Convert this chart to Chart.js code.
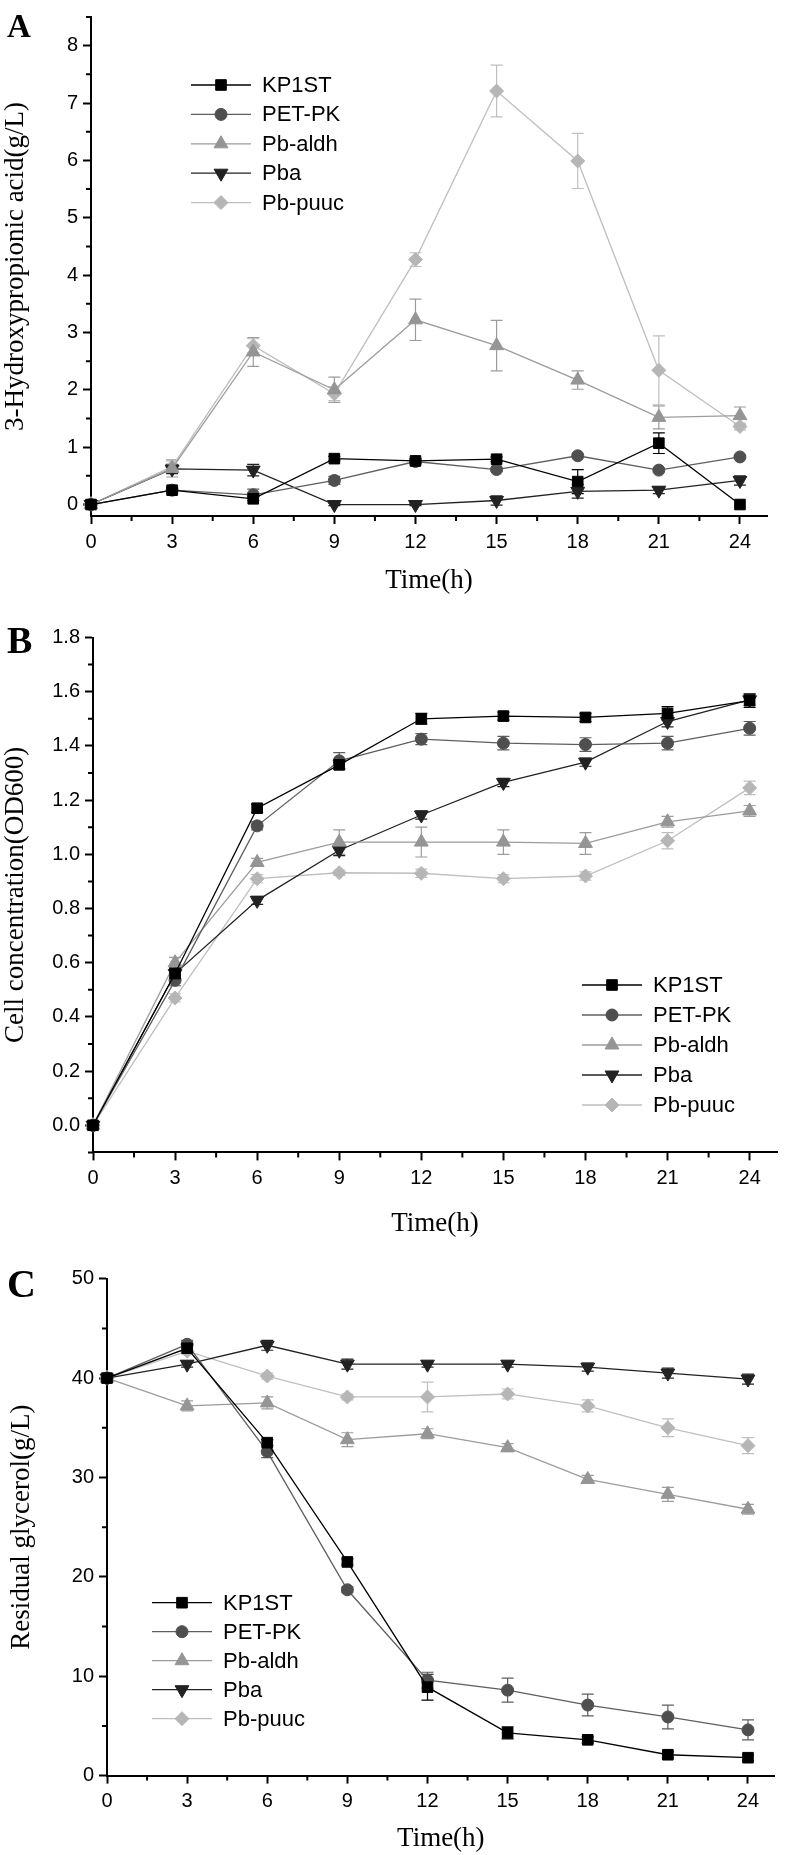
<!DOCTYPE html>
<html>
<head>
<meta charset="utf-8">
<script src="https://cdn.jsdelivr.net/npm/chart.js@4.4.1/dist/chart.umd.min.js"></script>
<style>
  body { margin: 0; background: #fff; width: 786px; height: 1855px; position: relative; overflow: hidden; }
  .panel { position: absolute; left: 0; width: 786px; }
</style>
</head>
<body>
<div class="panel" style="top:0;height:600px"><canvas id="chartA"></canvas></div>
<div class="panel" style="top:600px;height:650px"><canvas id="chartB"></canvas></div>
<div class="panel" style="top:1250px;height:605px"><canvas id="chartC"></canvas></div>
<script>
const hours = [0, 3, 6, 9, 12, 15, 18, 21, 24];
const strains = ["KP1ST", "PET-PK", "Pb-aldh", "Pba", "Pb-puuc"];

// A: 3-hydroxypropionic acid (g/L)
const hpKP1ST = [0, 0.25, 0.10, 0.80, 0.76, 0.79, 0.40, 1.07, 0.00];
const hpPETPK = [0, 0.25, 0.17, 0.42, 0.75, 0.61, 0.85, 0.60, 0.83];
const hpAldh  = [0, 0.63, 2.66, 2.00, 3.22, 2.77, 2.17, 1.52, 1.55];
const hpPba   = [0, 0.62, 0.60, 0.00, 0.00, 0.07, 0.23, 0.25, 0.42];
const hpPuuc  = [0, 0.66, 2.77, 1.93, 4.27, 7.21, 5.99, 2.34, 1.36];
const hpErrKP1ST = [0, 0.05, 0.03, 0.04, 0.04, 0.04, 0.21, 0.18, 0];
const hpErrPETPK = [0, 0.06, 0.10, 0.07, 0.04, 0.03, 0.03, 0.03, 0.03];
const hpErrAldh  = [0, 0.15, 0.25, 0.22, 0.36, 0.44, 0.16, 0.20, 0.15];
const hpErrPba   = [0, 0.08, 0.10, 0.02, 0.02, 0.08, 0.12, 0.06, 0.08];
const hpErrPuuc  = [0, 0.10, 0.12, 0.12, 0.12, 0.45, 0.48, 0.60, 0.06];

// B: cell concentration (OD600)
const odKP1ST = [0, 0.56, 1.17, 1.33, 1.50, 1.51, 1.505, 1.52, 1.567];
const odPETPK = [0, 0.535, 1.105, 1.345, 1.425, 1.41, 1.405, 1.41, 1.465];
const odAldh  = [0, 0.60, 0.97, 1.045, 1.045, 1.045, 1.04, 1.12, 1.16];
const odPba   = [0, 0.56, 0.83, 1.015, 1.145, 1.265, 1.34, 1.49, 1.57];
const odPuuc  = [0, 0.47, 0.91, 0.932, 0.93, 0.91, 0.92, 1.05, 1.245];
const odErrKP1ST = [0, 0.02, 0.015, 0.015, 0.02, 0.015, 0.015, 0.025, 0.025];
const odErrPETPK = [0, 0.02, 0.015, 0.03, 0.02, 0.025, 0.025, 0.025, 0.025];
const odErrAldh  = [0, 0.02, 0.015, 0.045, 0.055, 0.045, 0.04, 0.02, 0.02];
const odErrPba   = [0, 0.02, 0.015, 0.02, 0.015, 0.015, 0.015, 0.02, 0.02];
const odErrPuuc  = [0, 0.015, 0.015, 0.01, 0.015, 0.015, 0.015, 0.03, 0.025];

// C: residual glycerol (g/L)
const glyKP1ST = [40, 43.0, 33.5, 21.5, 8.9, 4.3, 3.6, 2.1, 1.8];
const glyPETPK = [40, 43.4, 32.6, 18.7, 9.6, 8.6, 7.1, 5.9, 4.6];
const glyAldh  = [40, 37.2, 37.5, 33.8, 34.4, 33.0, 29.8, 28.3, 26.8];
const glyPba   = [40, 41.4, 43.3, 41.4, 41.4, 41.4, 41.1, 40.5, 39.9];
const glyPuuc  = [40, 42.7, 40.2, 38.1, 38.1, 38.4, 37.2, 35.0, 33.2];
const glyErrKP1ST = [0, 0.3, 0.3, 0.3, 1.3, 0.6, 0.3, 0.3, 0.3];
const glyErrPETPK = [0, 0.4, 0.6, 0.3, 0.8, 1.2, 1.1, 1.2, 1.0];
const glyErrAldh  = [0, 0.5, 0.6, 0.7, 0.5, 0.4, 0.4, 0.7, 0.5];
const glyErrPba   = [0, 0.3, 0.5, 0.5, 0.3, 0.3, 0.4, 0.5, 0.5];
const glyErrPuuc  = [0, 0.3, 0.3, 0.3, 1.5, 0.5, 0.6, 0.9, 0.8];

const SANS = "'Liberation Sans', Arial, sans-serif";
const SERIF = "'Liberation Serif', 'Times New Roman', serif";

const seriesStyles = [
  { fill: "#000000", line: "#000000", pointStyle: "rect", radius: 7.5, rotation: 0 },
  { fill: "#4f4f4f", line: "#5e5e5e", pointStyle: "circle", radius: 6, rotation: 0 },
  { fill: "#959595", line: "#9c9c9c", pointStyle: "triangle", radius: 8, rotation: 0 },
  { fill: "#222222", line: "#222222", pointStyle: "triangle", radius: 8, rotation: 180 },
  { fill: "#b6b6b6", line: "#bfbfbf", pointStyle: "rectRot", radius: 7, rotation: 0 }
];

function drawMarker(ctx, st, x, y) {
  ctx.fillStyle = st.fill;
  ctx.strokeStyle = st.fill;
  ctx.lineWidth = 1;
  if (Chart.helpers && Chart.helpers.drawPoint) {
    Chart.helpers.drawPoint(ctx, { pointStyle: st.pointStyle, radius: st.radius, rotation: st.rotation, borderWidth: 1 }, x, y);
  }
}

// vertical error bars, drawn under the markers
const errorBars = {
  id: "errorBars",
  beforeDatasetsDraw(chart) {
    const ctx = chart.ctx;
    const xs = chart.scales.x, ys = chart.scales.y;
    ctx.save();
    chart.data.datasets.forEach(ds => {
      if (!ds.errors) return;
      ctx.strokeStyle = ds.borderColor;
      ctx.lineWidth = 1.2;
      ds.data.forEach((p, i) => {
        const e = ds.errors[i];
        if (!e) return;
        const px = xs.getPixelForValue(p.x);
        const top = ys.getPixelForValue(p.y + e);
        const bot = ys.getPixelForValue(p.y - e);
        ctx.beginPath();
        ctx.moveTo(px, top); ctx.lineTo(px, bot);
        ctx.moveTo(px - 6, top); ctx.lineTo(px + 6, top);
        ctx.moveTo(px - 6, bot); ctx.lineTo(px + 6, bot);
        ctx.stroke();
      });
    });
    ctx.restore();
  }
};

// half-step ticks between the labelled ones
const minorTicks = {
  id: "minorTicks",
  afterDraw(chart, args, opts) {
    const ctx = chart.ctx;
    const xs = chart.scales.x, ys = chart.scales.y;
    ctx.save();
    ctx.strokeStyle = "#000";
    ctx.lineWidth = 2;
    ctx.beginPath();
    for (let k = Math.ceil(xs.min / opts.x); k * opts.x <= xs.max + 1e-9; k++) {
      if (k % 2 === 0) continue;
      const px = xs.getPixelForValue(k * opts.x);
      ctx.moveTo(px, xs.top); ctx.lineTo(px, xs.top + 5);
    }
    for (let k = Math.ceil(ys.min / opts.y - 1e-9); k * opts.y <= ys.max + 1e-9; k++) {
      if (k % 2 === 0) continue;
      const py = ys.getPixelForValue(k * opts.y);
      ctx.moveTo(ys.right, py); ctx.lineTo(ys.right - 5, py);
    }
    ctx.stroke();
    ctx.restore();
  }
};

// legend with line + marker samples
const lineLegend = {
  id: "lineLegend",
  afterDraw(chart, args, opts) {
    const ctx = chart.ctx;
    ctx.save();
    chart.data.datasets.forEach((ds, i) => {
      const st = seriesStyles[i];
      const y = opts.y + i * opts.gap;
      ctx.strokeStyle = st.line;
      ctx.lineWidth = 1.3;
      ctx.beginPath();
      ctx.moveTo(opts.x, y); ctx.lineTo(opts.x + 60, y);
      ctx.stroke();
      drawMarker(ctx, st, opts.x + 30, y);
      ctx.fillStyle = "#000";
      ctx.font = "22px " + SANS;
      ctx.textBaseline = "middle";
      ctx.textAlign = "left";
      ctx.fillText(ds.label, opts.x + 71, y + 1);
    });
    ctx.restore();
  }
};

const panelLetter = {
  id: "panelLetter",
  afterDraw(chart, args, opts) {
    const ctx = chart.ctx;
    ctx.save();
    ctx.fillStyle = "#000";
    ctx.font = "bold " + opts.size + "px " + SERIF;
    ctx.textBaseline = "alphabetic";
    ctx.fillText(opts.text, opts.x, opts.y);
    ctx.restore();
  }
};

function makeDatasets(values, errors) {
  return strains.map((name, i) => {
    const st = seriesStyles[i];
    return {
      label: name,
      data: values[i].map((v, j) => ({ x: hours[j], y: v })),
      errors: errors[i],
      borderColor: st.line,
      borderWidth: 1.3,
      backgroundColor: st.fill,
      pointBackgroundColor: st.fill,
      pointBorderColor: st.fill,
      pointBorderWidth: 1,
      pointStyle: st.pointStyle,
      pointRotation: st.rotation,
      pointRadius: st.radius,
      tension: 0,
      clip: false
    };
  });
}

function makeChart(id, cfg) {
  const ctx = document.getElementById(id).getContext("2d");
  return new Chart(ctx, {
    type: "line",
    data: { datasets: makeDatasets(cfg.values, cfg.errors) },
    options: {
      responsive: true,
      maintainAspectRatio: false,
      animation: false,
      events: [],
      layout: { padding: cfg.padding },
      plugins: {
        legend: { display: false },
        tooltip: { enabled: false },
        minorTicks: { x: 1.5, y: cfg.yStep / 2 },
        lineLegend: cfg.legend,
        panelLetter: cfg.letter
      },
      scales: {
        x: {
          type: "linear",
          min: 0,
          max: 25,
          afterFit: s => { s.height = cfg.xHeight; },
          border: { display: true, color: "#000", width: 2 },
          grid: { display: true, drawOnChartArea: false, drawTicks: true, tickLength: 8, tickWidth: 2, tickColor: "#000" },
          ticks: {
            stepSize: 3, includeBounds: false, autoSkip: false, maxRotation: 0,
            color: "#000", padding: 6,
            font: { family: SANS, size: 20 },
            callback: v => String(v)
          },
          title: {
            display: true, text: "Time(h)", color: "#000",
            font: { family: SERIF, size: 27 },
            padding: { top: 0, bottom: 0 }
          }
        },
        y: {
          type: "linear",
          min: cfg.yMin,
          max: cfg.yMax,
          afterFit: s => { s.width = cfg.yWidth; },
          border: { display: true, color: "#000", width: 2 },
          grid: { display: true, drawOnChartArea: false, drawTicks: true, tickLength: 8, tickWidth: 2, tickColor: "#000" },
          ticks: {
            stepSize: cfg.yStep, includeBounds: false, autoSkip: false,
            color: "#000", padding: 5,
            font: { family: SANS, size: 20 },
            callback: v => v.toFixed(cfg.yDigits)
          },
          title: {
            display: true, text: cfg.yTitle, color: "#000",
            font: { family: SERIF, size: 27 },
            padding: { top: cfg.yTitlePad, bottom: 0 }
          }
        }
      }
    },
    plugins: [errorBars, minorTicks, lineLegend, panelLetter]
  });
}

makeChart("chartA", {
  values: [hpKP1ST, hpPETPK, hpAldh, hpPba, hpPuuc],
  errors: [hpErrKP1ST, hpErrPETPK, hpErrAldh, hpErrPba, hpErrPuuc],
  yMin: -0.2, yMax: 8.5, yStep: 1, yDigits: 0,
  yTitle: "3-Hydroxypropionic acid(g/L)", yTitlePad: 0,
  yWidth: 91, xHeight: 81,
  padding: { top: 13, left: 0, right: 19, bottom: 3 },
  legend: { x: 191, y: 85, gap: 29.4 },
  letter: { text: "A", size: 33, x: 7, y: 37 }
});

makeChart("chartB", {
  values: [odKP1ST, odPETPK, odAldh, odPba, odPuuc],
  errors: [odErrKP1ST, odErrPETPK, odErrAldh, odErrPba, odErrPuuc],
  yMin: -0.1, yMax: 1.8, yStep: 0.2, yDigits: 1,
  yTitle: "Cell concentration(OD600)", yTitlePad: 0,
  yWidth: 93, xHeight: 88,
  padding: { top: 37.5, left: 0, right: 2.5, bottom: 9.6 },
  legend: { x: 582, y: 385, gap: 30 },
  letter: { text: "B", size: 38, x: 7, y: 53 }
});

makeChart("chartC", {
  values: [glyKP1ST, glyPETPK, glyAldh, glyPba, glyPuuc],
  errors: [glyErrKP1ST, glyErrPETPK, glyErrAldh, glyErrPba, glyErrPuuc],
  yMin: 0, yMax: 50, yStep: 10, yDigits: 0,
  yTitle: "Residual glycerol(g/L)", yTitlePad: 6,
  yWidth: 107, xHeight: 79.4,
  padding: { top: 28.7, left: 0, right: 11.3, bottom: 0 },
  legend: { x: 152, y: 352.7, gap: 29 },
  letter: { text: "C", size: 40, x: 7, y: 47 }
});
</script>
</body>
</html>
